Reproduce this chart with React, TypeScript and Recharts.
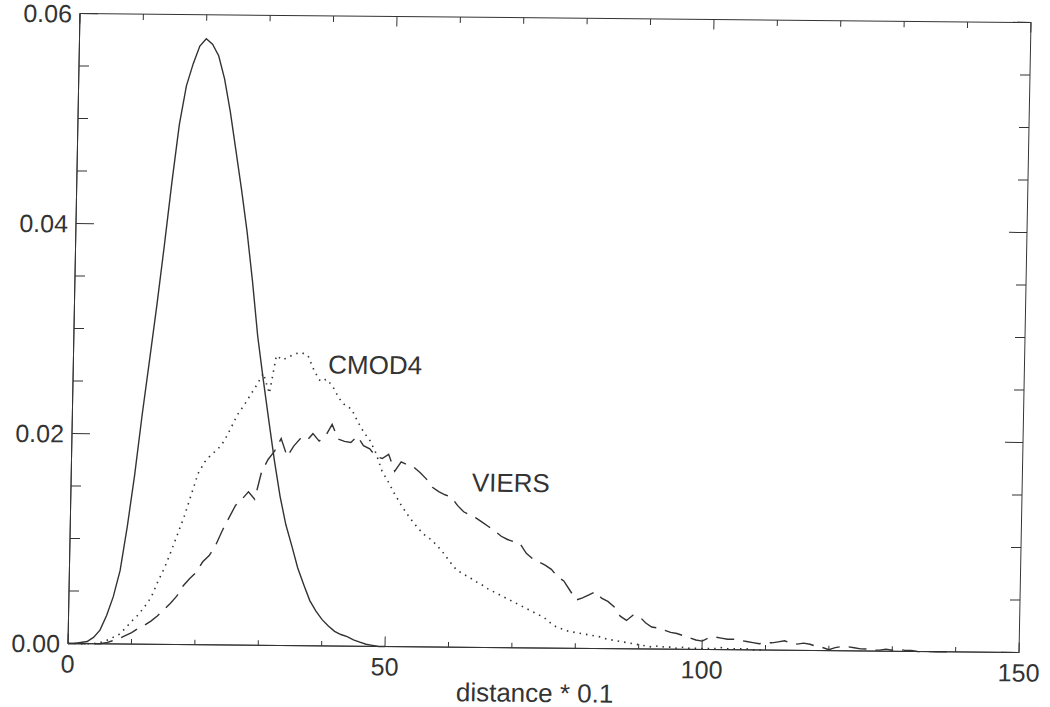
import { LineChart, Line, XAxis, YAxis, ReferenceDot, Label } from 'recharts';

// distance bins (distance * 0.1)
const distanceBins = Array.from({ length: 151 }, (_, i) => i);

// solid curve, bins 0..50
const fitCurve = [
  0, 0, 0.0001, 0.0002, 0.0006, 0.0013, 0.0027, 0.0045, 0.0070, 0.0112,
  0.0161, 0.0218, 0.0270, 0.0323, 0.0380, 0.0440, 0.0495, 0.0532, 0.0553, 0.0570,
  0.0577, 0.0572, 0.0561, 0.0539, 0.0508, 0.0471, 0.0434, 0.0394, 0.0347, 0.0294,
  0.0253, 0.0214, 0.0176, 0.0142, 0.0115, 0.0095, 0.0074, 0.0058, 0.0043, 0.0033,
  0.0025, 0.0019, 0.0014, 0.0011, 0.0009, 0.0006, 0.0004, 0.0002, 0.0001, 0, 0,
];

// dotted CMOD4, bins 0..110
const cmod4 = [
  0, 0, 0, 0, 0, 0.0001, 0.0003, 0.0006, 0.0009, 0.0015,
  0.0022, 0.0028, 0.0036, 0.0045, 0.0060, 0.0073, 0.0089, 0.0106, 0.0123, 0.0143,
  0.0163, 0.0174, 0.0181, 0.0186, 0.0194, 0.0206, 0.0219, 0.0228, 0.0238, 0.0248,
  0.0259, 0.0240, 0.0276, 0.0272, 0.0275, 0.0278, 0.0279, 0.0276, 0.0262, 0.0252,
  0.0254, 0.0247, 0.0236, 0.0229, 0.0226, 0.0214, 0.0204, 0.0196, 0.0184, 0.0167,
  0.0157, 0.0146, 0.0136, 0.0127, 0.0119, 0.0112, 0.0106, 0.0102, 0.0096, 0.0089,
  0.0081, 0.0074, 0.0070, 0.0067, 0.0063, 0.0060, 0.0056, 0.0053, 0.0050, 0.0047,
  0.0044, 0.0041, 0.0038, 0.0035, 0.0032, 0.0029, 0.0024, 0.0020, 0.0018, 0.0016,
  0.0015, 0.0014, 0.0013, 0.0012, 0.0011, 0.0009, 0.0008, 0.0007, 0.0006, 0.0005,
  0.0004, 0.0003, 0.0002, 0.0003, 0.0002, 0.0002, 0.0001, 0.0002, 0.0001, 0.0001,
  0.0001, 0.0001, 0.0001, 0.0002, 0.0001, 0.0001, 0.0001, 0.0001, 0, 0, 0,
];

// dashed VIERS, bins 0..140
const viers = [
  0, 0, 0, 0, 0, 0, 0.0001, 0.0003, 0.0005, 0.0008,
  0.0011, 0.0015, 0.0018, 0.0022, 0.0027, 0.0033, 0.0039, 0.0046, 0.0056, 0.0063,
  0.0069, 0.0079, 0.0085, 0.0095, 0.0109, 0.0121, 0.0133, 0.0139, 0.0146, 0.0139,
  0.0165, 0.0177, 0.0185, 0.0197, 0.0180, 0.0190, 0.0197, 0.0195, 0.0202, 0.0195,
  0.0200, 0.0211, 0.0197, 0.0195, 0.0194, 0.0200, 0.0191, 0.0188, 0.0181, 0.0179,
  0.0183, 0.0167, 0.0176, 0.0173, 0.0171, 0.0166, 0.0160, 0.0152, 0.0148, 0.0145,
  0.0143, 0.0135, 0.0129, 0.0126, 0.0123, 0.0119, 0.0115, 0.0111, 0.0106, 0.0103,
  0.0101, 0.0099, 0.0090, 0.0085, 0.0082, 0.0079, 0.0075, 0.0068, 0.0064, 0.0055,
  0.0046, 0.0048, 0.0051, 0.0054, 0.0048, 0.0045, 0.0040, 0.0031, 0.0027, 0.0032,
  0.0031, 0.0025, 0.0021, 0.0020, 0.0018, 0.0016, 0.0015, 0.0013, 0.0011, 0.0009,
  0.0008, 0.0011, 0.0012, 0.0011, 0.0010, 0.0010, 0.0009, 0.0008, 0.0007, 0.0006,
  0.0007, 0.0007, 0.0008, 0.0009, 0.0007, 0.0006, 0.0007, 0.0006, 0.0004, 0.0003,
  0.0001, 0.0003, 0.0004, 0.0004, 0.0003, 0.0002, 0.0002, 0.0001, 0.0001, 0.0002,
  0.0001, 0.0002, 0.0001, 0.0001, 0, 0, 0, 0, 0, 0, 0,
];

const xTicks = [0, 10, 20, 30, 40, 50, 60, 70, 80, 90, 100, 110, 120, 130, 140, 150];
const xLabels = [0, 50, 100, 150];
const yTicks = [0, 0.005, 0.01, 0.015, 0.02, 0.025, 0.03, 0.035, 0.04, 0.045, 0.05, 0.055, 0.06];
const yLabels = ['0.00', '0.02', '0.04', '0.06'];

const INK = '#333';
const FONT = '"Liberation Sans", Arial, Helvetica, sans-serif';

// chart box; the plot frame is what is left after margins and axis sizes
const W = 1050;
const H = 707;
const MARGIN = { top: 18, right: 25, left: 0, bottom: 0 };
const Y_AXIS_W = 74;
const X_AXIS_H = 59;
const PLOT_W = W - MARGIN.left - MARGIN.right - Y_AXIS_W;
const PLOT_H = H - MARGIN.top - MARGIN.bottom - X_AXIS_H;

const rows = distanceBins.map((x, i) => ({
  x,
  fit: fitCurve[i] ?? null,
  cmod4: cmod4[i] ?? null,
  viers: viers[i] ?? null,
}));

const isMajorX = (v: number) => xLabels.includes(v);
const yLabelFor = (v: number) => {
  const k = Math.round(v * 1000);
  return k % 20 === 0 ? yLabels[k / 20] : null;
};

// bottom axis tick: inward mark, mirrored mark on the top edge, label for majors
function XTick({ x, y, payload }: any) {
  const major = isMajorX(payload.value);
  const top = y - PLOT_H;
  return (
    <g>
      <line x1={x} y1={y} x2={x} y2={y - (major ? 10 : 5)} stroke={INK} />
      <line x1={x} y1={top} x2={x} y2={top + (major ? 10 : 6)} stroke={INK} />
      {major && (
        <text x={x} y={y + 20} textAnchor="middle" dominantBaseline="central"
          style={{ fontSize: 25, fill: INK, fontFamily: FONT }}>
          {payload.value}
        </text>
      )}
    </g>
  );
}

// left axis tick: inward mark, mirrored mark on the right edge, label for majors
function YTick({ x, y, payload }: any) {
  const label = yLabelFor(payload.value);
  const len = label ? 18 : 10;
  const right = x + PLOT_W;
  return (
    <g>
      <line x1={x} y1={y} x2={x + len} y2={y} stroke={INK} />
      <line x1={right} y1={y} x2={right - len} y2={y} stroke={INK} />
      {label && (
        <text x={x - 8} y={y} textAnchor="end" dominantBaseline="central"
          style={{ fontSize: 25, fill: INK, fontFamily: FONT }}>
          {label}
        </text>
      )}
    </g>
  );
}

function curveLabel(text: string) {
  return (props: any) => {
    const vb = props.viewBox ?? {};
    return (
      <text x={vb.x} y={vb.y} dominantBaseline="central"
        style={{ fontSize: 26, fill: INK, fontFamily: FONT }}>
        {text}
      </text>
    );
  };
}

export default function App() {
  // the scanned original is slightly rotated / sheared, mimic it on the whole chart
  return (
    <div style={{
      position: 'absolute', left: 0, top: 0, width: W, height: H, background: '#fff',
      transform: 'matrix(1, 0.0095, -0.019, 1, 0, 0)', transformOrigin: '549.5px 333px',
    }}>
      <LineChart width={W} height={H} data={rows} margin={MARGIN}>
        <XAxis dataKey="x" type="number" domain={[0, 150]} ticks={xTicks} interval={0}
          height={X_AXIS_H} tickSize={0} tickMargin={0} tickLine={false}
          axisLine={{ stroke: INK }} tick={<XTick />}>
          <Label content={(p: any) => {
            const vb = p.viewBox;
            return (
              <text x={vb.x + vb.width / 2 - 8} y={vb.y + 45} textAnchor="middle" dominantBaseline="central"
                style={{ fontSize: 26, fill: INK, fontFamily: FONT }}>
                distance * 0.1
              </text>
            );
          }} />
        </XAxis>
        <YAxis type="number" domain={[0, 0.06]} ticks={yTicks} interval={0} width={Y_AXIS_W}
          tickSize={0} tickMargin={0} tickLine={false} axisLine={{ stroke: INK }} tick={<YTick />} />
        <Line dataKey="fit" type="linear" stroke={INK} strokeWidth={1.4} dot={false}
          isAnimationActive={false} />
        <Line dataKey="cmod4" type="linear" stroke={INK} strokeWidth={1.6} strokeDasharray="1.5 5"
          dot={false} isAnimationActive={false} />
        <Line dataKey="viers" type="linear" stroke={INK} strokeWidth={1.4} strokeDasharray="18 9"
          dot={false} isAnimationActive={false} />
        <ReferenceDot x={40.2} y={0.0268} r={0} fill="none" stroke="none" label={curveLabel('CMOD4')} />
        <ReferenceDot x={63.2} y={0.0157} r={0} fill="none" stroke="none" label={curveLabel('VIERS')} />
        {/* plot frame, anchored at the data origin */}
        <ReferenceDot x={0} y={0} r={0} fill="none" stroke="none" label={(p: any) => {
          const vb = p.viewBox ?? {};
          return <rect x={vb.x} y={vb.y - PLOT_H} width={PLOT_W} height={PLOT_H} fill="none" stroke={INK} />;
        }} />
      </LineChart>
    </div>
  );
}
